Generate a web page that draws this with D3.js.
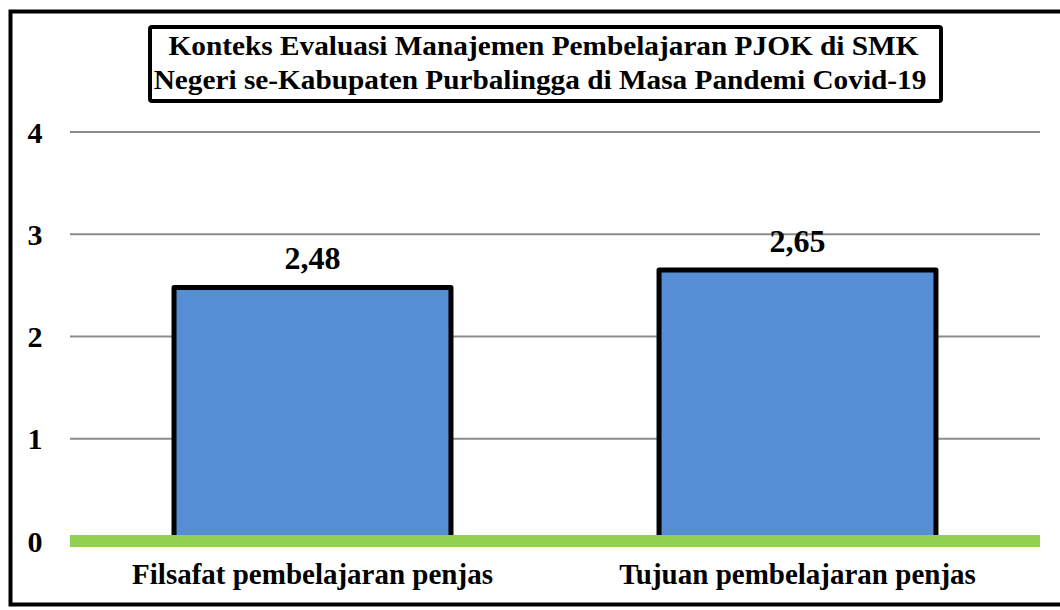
<!DOCTYPE html>
<html>
<head>
<meta charset="utf-8">
<script src="https://cdn.jsdelivr.net/npm/d3@7"></script>
<style>
  body { margin: 0; background: #fff; }
  svg { display: block; }
  text { font-family: "Liberation Serif", "Times New Roman", serif; font-weight: bold; fill: #000; }
</style>
</head>
<body>
<div id="chart"></div>
<script>
const categories = ['Filsafat pembelajaran penjas', 'Tujuan pembelajaran penjas'];
const values = [2.48, 2.65];
const valueLabels = ['2,48', '2,65'];
const yTicks = [0, 1, 2, 3, 4];
const titleLines = [
  'Konteks Evaluasi Manajemen Pembelajaran PJOK di SMK',
  'Negeri se-Kabupaten Purbalingga di Masa Pandemi Covid-19'
];

const width = 1060;
const height = 610;
const plot = { left: 70, right: 1040, top: 132, bottom: 541 };

const svg = d3
  .select('#chart')
  .append('svg')
  .attr('width', width)
  .attr('height', height);

// outer frame (right edge is cut off in the original)
svg
  .append('rect')
  .attr('x', 10.5)
  .attr('y', 11.5)
  .attr('width', 1100)
  .attr('height', 593)
  .attr('fill', 'none')
  .attr('stroke', '#000')
  .attr('stroke-width', 4);

const x = d3
  .scaleBand()
  .domain(categories)
  .range([plot.left, plot.right])
  .paddingInner(0.429)
  .paddingOuter(0.2145);

const y = d3.scaleLinear().domain([0, 4]).range([plot.bottom, plot.top]);

// gridlines
svg
  .append('g')
  .selectAll('line')
  .data(yTicks.filter(d => d > 0))
  .join('line')
  .attr('x1', plot.left)
  .attr('x2', plot.right)
  .attr('y1', d => y(d))
  .attr('y2', d => y(d))
  .attr('stroke', '#8c8c8c')
  .attr('stroke-width', 2);

// tick labels
svg
  .append('g')
  .selectAll('text')
  .data(yTicks)
  .join('text')
  .attr('x', 35)
  .attr('y', d => y(d))
  .attr('dy', '0.35em')
  .attr('text-anchor', 'middle')
  .style('font-size', '30px')
  .text(d => d);

// bars
svg
  .append('g')
  .selectAll('rect')
  .data(values)
  .join('rect')
  .attr('x', (d, i) => x(categories[i]))
  .attr('y', d => y(d))
  .attr('width', x.bandwidth())
  .attr('height', d => y(0) - y(d))
  .attr('fill', '#558ed5')
  .attr('stroke', '#000')
  .attr('stroke-width', 5)
  .attr('stroke-linejoin', 'round');

// baseline band
svg
  .append('line')
  .attr('x1', plot.left)
  .attr('x2', plot.right)
  .attr('y1', y(0))
  .attr('y2', y(0))
  .attr('stroke', '#92d050')
  .attr('stroke-width', 12);

// value labels
svg
  .append('g')
  .selectAll('text')
  .data(values)
  .join('text')
  .attr('x', (d, i) => x(categories[i]) + x.bandwidth() / 2)
  .attr('y', d => y(d) - 18)
  .attr('text-anchor', 'middle')
  .style('font-size', '32px')
  .text((d, i) => valueLabels[i]);

// category labels
svg
  .append('g')
  .selectAll('text')
  .data(categories)
  .join('text')
  .attr('x', d => x(d) + x.bandwidth() / 2)
  .attr('y', 584)
  .attr('text-anchor', 'middle')
  .style('font-size', '29px')
  .text(d => d);

// title box
svg
  .append('rect')
  .attr('x', 150)
  .attr('y', 27)
  .attr('width', 791)
  .attr('height', 74)
  .attr('rx', 2)
  .attr('fill', '#fff')
  .attr('stroke', '#000')
  .attr('stroke-width', 4);

// the title in the original is slightly stretched sideways
svg
  .append('g')
  .selectAll('text')
  .data(titleLines)
  .join('text')
  .attr('transform', (d, i) =>
    `translate(${i === 0 ? 543.5 : 540},${55 + i * 34}) scale(1.085,1)`
  )
  .attr('text-anchor', 'middle')
  .style('font-size', '27px')
  .text(d => d);
</script>
</body>
</html>
